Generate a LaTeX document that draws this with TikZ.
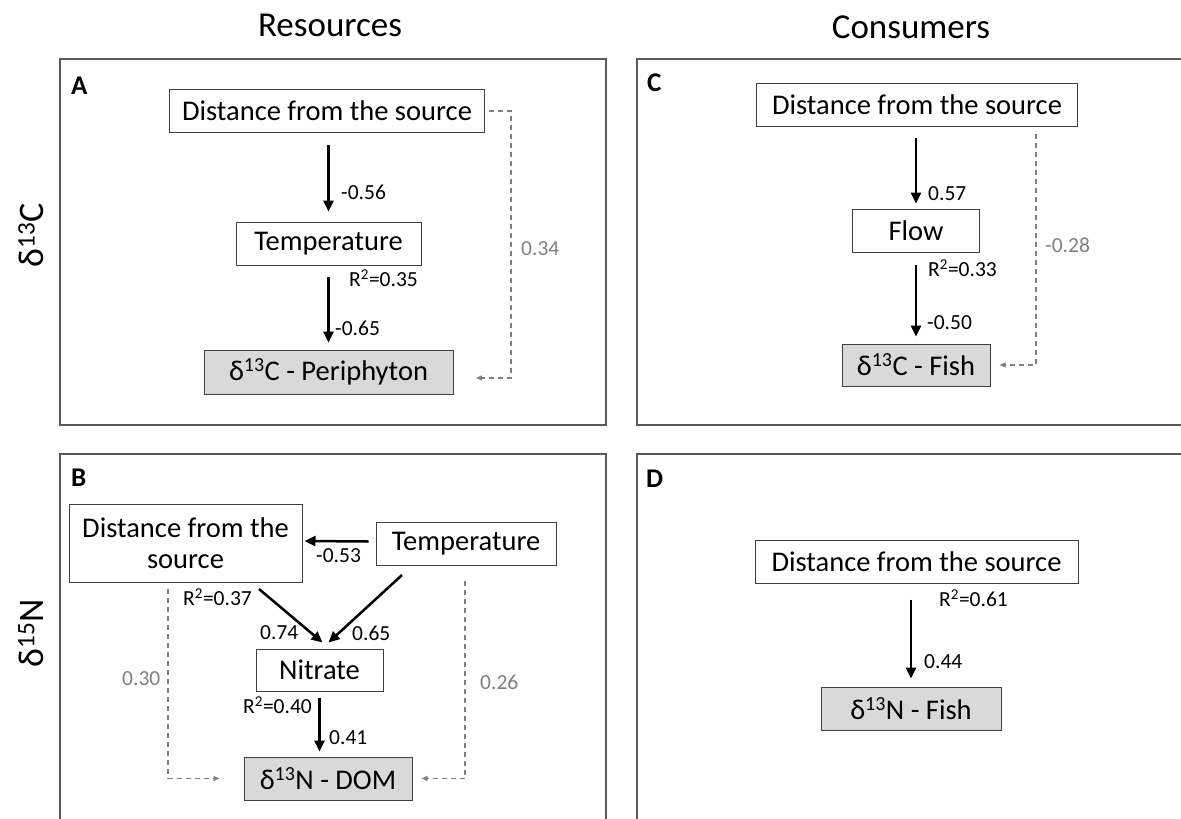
\documentclass[tikz,border=0pt]{standalone}
\usepackage{fontspec}
\setmainfont{Carlito}
\usetikzlibrary{arrows.meta}
\definecolor{boxline}{HTML}{404040}
\definecolor{boxfill}{HTML}{D9D9D9}
\definecolor{panelline}{HTML}{595959}
\definecolor{pathgray}{HTML}{808080}
\tikzset{
  panel/.style={draw=panelline, line width=1.2pt},
  varbox/.style={draw=boxline, line width=1pt, inner sep=0pt, font=\fontsize{28.5}{31}\selectfont, align=center},
  respbox/.style={varbox, fill=boxfill},
  coef/.style={anchor=west, inner sep=0pt, font=\fontsize{21.5}{24}\selectfont},
  coefgray/.style={coef, text=pathgray},
  paneltag/.style={anchor=west, inner sep=0pt, font=\fontsize{27}{29}\selectfont\bfseries},
  heading/.style={inner sep=0pt, font=\fontsize{35}{38}\selectfont},
  rowtag/.style={inner sep=0pt, rotate=90, font=\fontsize{36}{38}\selectfont},
  solidpath/.style={line width=2.5pt, -{Triangle[length=11pt,width=10pt]}},
  dashpath/.style={draw=pathgray, line width=1.3pt, dash pattern=on 5pt off 4pt, -{Triangle[length=6pt,width=5pt]}},
}
\begin{document}
\begin{tikzpicture}[x=1pt,y=-1pt]
\useasboundingbox (0,0) rectangle (1181,819);
\clip (0,0) rectangle (1181,819);

% column and row headings
\node[heading] (hres) at (330,25) {Resources};
\node[heading] (hcons) at (911,27) {Consumers};
\node[rowtag] (rowC) at (31,235) {δ\textsuperscript{13}C};
\node[rowtag] (rowN) at (31,633) {δ\textsuperscript{15}N};

% panel frames
\draw[panel] (60,59) rectangle (606,425);
\draw[panel] (637,59) rectangle (1200,425);
\draw[panel] (60,454) rectangle (606,840);
\draw[panel] (637,454) rectangle (1200,840);

% ---------- panel A ----------
\node[paneltag] (tagA) at (71,86) {A};
\node[varbox, minimum width=315pt, minimum height=43pt] (aDist) at (327,111) {Distance from the source};
\node[varbox, minimum width=185pt, minimum height=43pt] (aTemp) at (328.5,243.5) {Temperature};
\node[respbox, minimum width=249pt, minimum height=44pt] (aPeri) at (328.5,372) {δ\textsuperscript{13}C - Periphyton};
\draw[solidpath] ([yshift=-12pt]aTemp.north |- aDist.south) -- ([yshift=10pt]aTemp.north);
\draw[solidpath] ([yshift=-11pt]aTemp.south) -- ([yshift=7pt]aTemp.south |- aPeri.north);
\node[coef] (aL1) at (341,192) {-0.56};
\node[coef] (aR2) at (349,278) {R\textsuperscript{2}=0.35};
\node[coef] (aL2) at (335,328) {-0.65};
\coordinate (aEnd) at (476,378);
\draw[dashpath, shorten <=4pt] (aDist.east) -- ++(26,0) |- (aEnd);
\node[coefgray] (aL3) at (521,249) {0.34};

% ---------- panel C ----------
\node[paneltag] (tagC) at (647,83) {C};
\node[varbox, minimum width=321pt, minimum height=43pt] (cDist) at (917,104.5) {Distance from the source};
\node[varbox, minimum width=127pt, minimum height=43pt] (cFlow) at (916,230.5) {Flow};
\node[respbox, minimum width=148pt, minimum height=42pt] (cFish) at (916,365) {δ\textsuperscript{13}C - Fish};
\draw[solidpath] ([yshift=-11pt]cFlow.north |- cDist.south) -- ([yshift=5pt]cFlow.north);
\draw[solidpath] ([yshift=-12pt]cFlow.south) -- ([yshift=7pt]cFlow.south |- cFish.north);
\node[coef] (cL1) at (928,194) {0.57};
\node[coef] (cR2) at (928,268) {R\textsuperscript{2}=0.33};
\node[coef] (cL2) at (927,323) {-0.50};
\coordinate (cStart) at (1036,134);
\draw[dashpath] (cStart) |- ([xshift=9pt]cFish.east);
\node[coefgray] (cL3) at (1045,245) {-0.28};

% ---------- panel B ----------
\node[paneltag] (tagB) at (71,478) {B};
\node[varbox, minimum width=233pt, minimum height=78pt] (bDist) at (185.5,543) {Distance from the\\source};
\node[varbox, minimum width=180pt, minimum height=43pt] (bTemp) at (466,543.5) {Temperature};
\node[varbox, minimum width=127pt, minimum height=42pt] (bNit) at (319.5,670) {Nitrate};
\node[respbox, minimum width=168pt, minimum height=43pt] (bDOM) at (328,778.5) {δ\textsuperscript{13}N - DOM};
\draw[solidpath] ([xshift=-7pt,yshift=2pt]bTemp.west) -- ([xshift=2pt,yshift=2pt]bDist.east);
\coordinate (bDistOut) at (259,589);
\coordinate (bTempOut) at (402,575);
\draw[solidpath] (bDistOut) -- ([xshift=3pt,yshift=6pt]bNit.north);
\draw[solidpath] (bTempOut) -- ([xshift=9pt,yshift=6pt]bNit.north);
\draw[solidpath] ([yshift=-6pt]bNit.south) -- ([yshift=5pt]bNit.south |- bDOM.north);
\node[coef] (bL1) at (316,556) {-0.53};
\node[coef] (bR1) at (183,597) {R\textsuperscript{2}=0.37};
\node[coef] (bL2) at (260,633) {0.74};
\node[coef] (bL3) at (352,633) {0.65};
\node[coef] (bR2) at (243,705) {R\textsuperscript{2}=0.40};
\node[coef] (bL4) at (329,738) {0.41};
\coordinate (bLeftStart) at (168,589);
\coordinate (bRightStart) at (465,581);
\draw[dashpath] (bLeftStart) |- ([xshift=-24pt]bDOM.west);
\draw[dashpath] (bRightStart) |- ([xshift=9pt]bDOM.east);
\node[coefgray] (bL5) at (122,679) {0.30};
\node[coefgray] (bL6) at (480,682) {0.26};

% ---------- panel D ----------
\node[paneltag] (tagD) at (646,479) {D};
\node[varbox, minimum width=323pt, minimum height=43pt] (dDist) at (916.5,561.5) {Distance from the source};
\node[respbox, minimum width=180pt, minimum height=43pt] (dFish) at (911,708.5) {δ\textsuperscript{13}N - Fish};
\draw[solidpath] ([yshift=-16pt]dFish.north |- dDist.south) -- ([yshift=8pt]dFish.north);
\node[coef] (dR2) at (939,598) {R\textsuperscript{2}=0.61};
\node[coef] (dL1) at (924,662) {0.44};
\end{tikzpicture}
\end{document}
